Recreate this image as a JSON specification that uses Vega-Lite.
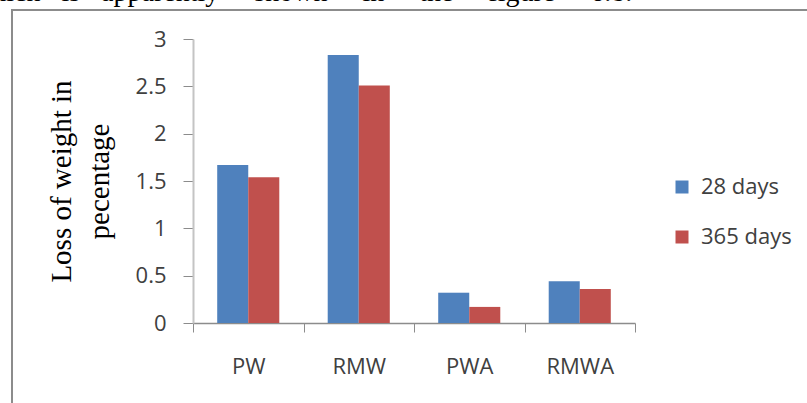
{
  "$schema": "https://vega.github.io/schema/vega-lite/v6.json",
  "autosize": "none",
  "width": 805,
  "height": 403,
  "padding": {"left": 12, "top": 10, "right": -10, "bottom": -10},
  "background": "white",
  "title": {
    "text": "which\u00a0\u00a0\u00a0is\u00a0\u00a0\u00a0apparently\u00a0\u00a0\u00a0\u00a0\u00a0shown\u00a0\u00a0\u00a0\u00a0\u00a0in\u00a0\u00a0\u00a0\u00a0\u00a0the\u00a0\u00a0\u00a0\u00a0\u00a0figure\u00a0\u00a0\u00a0\u00a0\u00a06.8.",
    "anchor": "start",
    "frame": "group",
    "font": "Liberation Serif",
    "fontSize": 28,
    "fontWeight": "normal",
    "color": "black",
    "baseline": "alphabetic",
    "offset": -19,
    "dx": -40
  },
  "config": {
    "view": {"stroke": "#8c8c8c", "strokeWidth": 2}
  },
  "data": {
    "values": [
      {"mix": "PW", "age": "28 days", "loss": 1.67},
      {"mix": "PW", "age": "365 days", "loss": 1.54},
      {"mix": "RMW", "age": "28 days", "loss": 2.83},
      {"mix": "RMW", "age": "365 days", "loss": 2.51},
      {"mix": "PWA", "age": "28 days", "loss": 0.32},
      {"mix": "PWA", "age": "365 days", "loss": 0.17},
      {"mix": "RMWA", "age": "28 days", "loss": 0.44},
      {"mix": "RMWA", "age": "365 days", "loss": 0.36}
    ]
  },
  "mark": {"type": "bar"},
  "encoding": {
    "x": {
      "field": "mix",
      "type": "nominal",
      "sort": ["PW", "RMW", "PWA", "RMWA"],
      "scale": {"range": [181, 623], "paddingInner": 0, "paddingOuter": 0},
      "axis": {
        "title": null,
        "offset": -90,
        "tickBand": "extent",
        "labelAngle": 0,
        "domainColor": "#8c8c8c",
        "domainWidth": 1.5,
        "tickColor": "#8c8c8c",
        "tickSize": 9,
        "labelFont": "Open Sans",
        "labelFontSize": 22,
        "labelColor": "#404040",
        "labelPadding": 24
      }
    },
    "xOffset": {
      "field": "age",
      "sort": ["28 days", "365 days"],
      "scale": {"paddingInner": 0, "paddingOuter": 0.78}
    },
    "y": {
      "field": "loss",
      "type": "quantitative",
      "scale": {"domain": [0, 3], "range": [313, 29]},
      "axis": {
        "offset": -181,
        "values": [0, 0.5, 1, 1.5, 2, 2.5, 3],
        "format": "~g",
        "grid": false,
        "domainColor": "#c4c4c4",
        "domainWidth": 2,
        "tickColor": "#8c8c8c",
        "tickSize": 10,
        "labelFont": "Open Sans",
        "labelFontSize": 22,
        "labelColor": "#404040",
        "labelPadding": 17,
        "title": ["Loss of weight in", "pecentage"],
        "titleFont": "Liberation Serif",
        "titleFontSize": 29,
        "titleFontWeight": "normal",
        "titleColor": "black",
        "titleLineHeight": 38,
        "titlePadding": 21
      }
    },
    "color": {
      "field": "age",
      "type": "nominal",
      "sort": ["28 days", "365 days"],
      "scale": {"range": ["#4f81bd", "#c0504d"]},
      "legend": {
        "title": null,
        "orient": "none",
        "legendX": 659,
        "legendY": 166,
        "padding": 0,
        "symbolType": "square",
        "symbolSize": 169,
        "symbolStrokeWidth": 0,
        "labelOffset": 8,
        "labelFont": "Open Sans",
        "labelFontSize": 22,
        "labelColor": "#404040",
        "rowPadding": 28
      }
    }
  }
}
